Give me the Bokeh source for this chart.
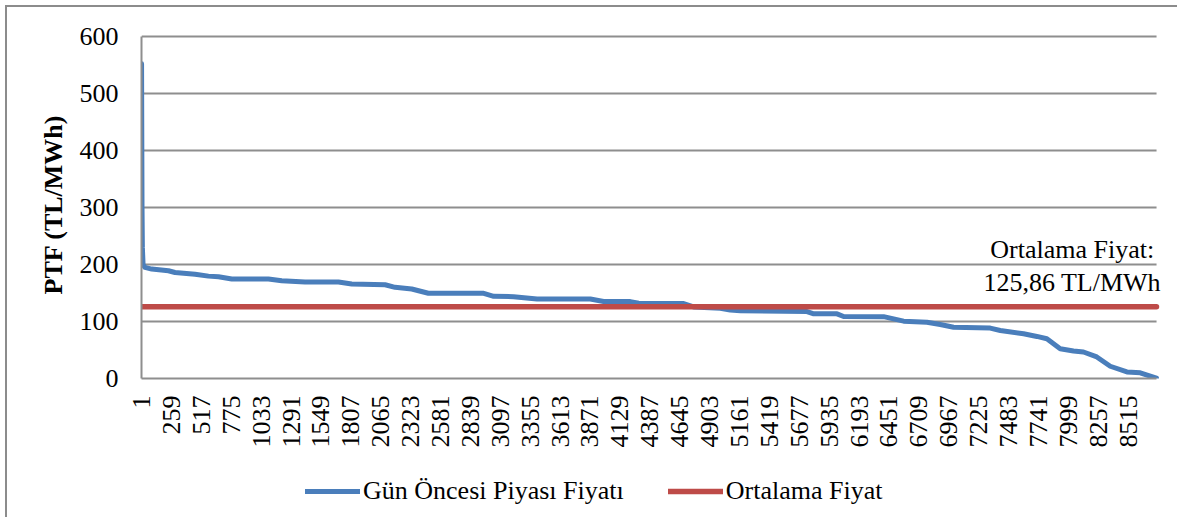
import math
from bokeh.plotting import figure
from bokeh.layouts import column
from bokeh.models import Range1d, FixedTicker, Label, Legend, LegendItem
from bokeh.embed import file_html
from bokeh.resources import INLINE

# ---- data (sorted hourly day-ahead prices) ----
hours = [1, 3, 5, 8, 14, 30, 89, 233, 290, 463, 578, 665, 780, 1096, 1211, 1412,
         1700, 1815, 2103, 2189, 2333, 2476, 2954, 3040, 3212, 3414, 3874, 3989,
         4219, 4291, 4679, 4765, 4996, 5082, 5169, 5744, 5802, 6003, 6060, 6405,
         6578, 6779, 6894, 7009, 7325, 7412, 7613, 7728, 7814, 7929, 8044, 8130,
         8245, 8361, 8505, 8620, 8760]
prices = [552, 420, 300, 230, 200, 195, 192, 189, 186, 183, 179.6, 178.5, 174.5,
          174.4, 171.5, 169.2, 169.2, 165.7, 164.5, 160, 157, 149.5, 149.4, 144.2,
          143.6, 139.5, 139.5, 135, 134.9, 132, 131.5, 125.5, 123.2, 120, 119,
          117.5, 113.4, 113.4, 108.7, 108.5, 100.6, 98.8, 94.7, 90, 88.4, 84.3,
          78.5, 73.8, 69.8, 52.3, 48.3, 46.5, 37.8, 21.5, 11.6, 9.9, 0.5]
mean_price = 125.86
n_hours = 8760
x_tick_labels = ["1", "259", "517", "775", "1033", "1291", "1549", "1807", "2065",
                 "2323", "2581", "2839", "3097", "3355", "3613", "3871", "4129",
                 "4387", "4645", "4903", "5161", "5419", "5677", "5935", "6193",
                 "6451", "6709", "6967", "7225", "7483", "7741", "7999", "8257", "8515"]
y_ticks = [0, 100, 200, 300, 400, 500, 600]
series_names = ["Gün Öncesi Piyası Fiyatı", "Ortalama Fiyat"]

FONT = "Liberation Serif"
BLUE = "#4A7EBB"
RED = "#BE4B48"
GRID = "#8e8e8e"

x_pad = 155      # extra room right of the last category (for the annotation text)
y_pad = 10.5     # extra room above 600 so the top gridline is not clipped

p = figure(width=1170, height=443, output_backend="svg", toolbar_location=None,
           x_range=Range1d(0.5, n_hours + 0.5 + x_pad),
           y_range=Range1d(0, y_ticks[-1] + y_pad),
           min_border_left=134, min_border_right=3, min_border_top=23,
           min_border_bottom=70)
p.outline_line_color = None
p.background_fill_color = "white"
p.border_fill_color = "white"

# grid (drawn only across the category span)
p.xgrid.grid_line_color = None
p.ygrid.grid_line_color = None
p.segment(x0=0.5, x1=n_hours + 0.5, y0=y_ticks[1:], y1=y_ticks[1:],
          line_color=GRID, line_width=2)

# x axis
xt = [int(t) for t in x_tick_labels]
p.xaxis.ticker = FixedTicker(ticks=xt)
p.xaxis.major_label_overrides = {v: s for v, s in zip(xt, x_tick_labels)}
p.xaxis.major_label_orientation = math.pi / 2
p.xaxis.major_label_standoff = 17
p.xaxis.bounds = (0.5, n_hours + 0.5)
p.xaxis.major_tick_out = 0
p.xaxis.major_tick_in = 0
p.xaxis.minor_tick_out = 0
p.xaxis.minor_tick_in = 0
p.xaxis.axis_line_color = GRID
p.xaxis.axis_line_width = 2
p.xaxis.major_label_text_font = FONT
p.xaxis.major_label_text_font_size = "26px"
p.xaxis.major_label_text_color = "black"

# y axis
p.yaxis.ticker = FixedTicker(ticks=y_ticks)
p.yaxis.bounds = (y_ticks[0], y_ticks[-1])
p.yaxis.major_label_standoff = 23
p.yaxis.major_tick_out = 0
p.yaxis.major_tick_in = 0
p.yaxis.minor_tick_out = 0
p.yaxis.minor_tick_in = 0
p.yaxis.axis_line_color = GRID
p.yaxis.axis_line_width = 2
p.yaxis.major_label_text_font = FONT
p.yaxis.major_label_text_font_size = "26px"
p.yaxis.major_label_text_color = "black"
p.yaxis.axis_label = "PTF (TL/MWh)"
p.yaxis.axis_label_text_font = FONT
p.yaxis.axis_label_text_font_size = "26px"
p.yaxis.axis_label_text_font_style = "bold"
p.yaxis.axis_label_text_color = "black"
p.yaxis.axis_label_standoff = 9

# series
p.line(hours, prices, line_color=BLUE, line_width=5, line_cap="round",
       line_join="round")
p.line([hours[0], hours[-1]], [mean_price, mean_price], line_color=RED,
       line_width=5.5, line_cap="round")

# annotation
mean_txt = f"{mean_price:.2f}".replace(".", ",") + " TL/MWh"
for txt, yv in (("Ortalama Fiyat:", 226.5), (mean_txt, 169.0)):
    p.add_layout(Label(x=8033, y=yv, text=txt, text_align="center",
                       text_baseline="middle", text_font=FONT,
                       text_font_size="26px", text_color="black"))

# legend strip below the chart (series drawn off-view, only their legend shows)
pl = figure(width=1170, height=67, output_backend="svg", toolbar_location=None,
            x_axis_type=None, y_axis_type=None, min_border=0,
            x_range=Range1d(-20000, -10000), y_range=Range1d(-2000, -1000))
pl.outline_line_color = None
pl.xgrid.grid_line_color = None
pl.ygrid.grid_line_color = None
lb = pl.line(hours, prices, line_color=BLUE, line_width=5, line_cap="round")
lr = pl.line([hours[0], hours[-1]], [mean_price, mean_price], line_color=RED,
             line_width=5.5, line_cap="round")
legend = Legend(items=[LegendItem(label=series_names[0], renderers=[lb]),
                       LegendItem(label=series_names[1], renderers=[lr])],
                orientation="horizontal", location=(164, 11))
legend.border_line_color = None
legend.background_fill_alpha = 0
legend.padding = 0
legend.margin = 0
legend.spacing = 44
legend.label_standoff = 3
legend.glyph_width = 55
legend.glyph_height = 30
legend.label_height = 30
legend.label_text_font = FONT
legend.label_text_font_size = "26px"
legend.label_text_color = "black"
legend.label_text_baseline = "middle"
pl.add_layout(legend, "center")

layout = column(p, pl, spacing=0)
layout.styles = {"margin-left": "5px", "margin-top": "5px",
                 "border-left": "2px solid #8c8c8c", "border-top": "2px solid #8c8c8c"}

open("out.html", "w").write(file_html(layout, INLINE))
